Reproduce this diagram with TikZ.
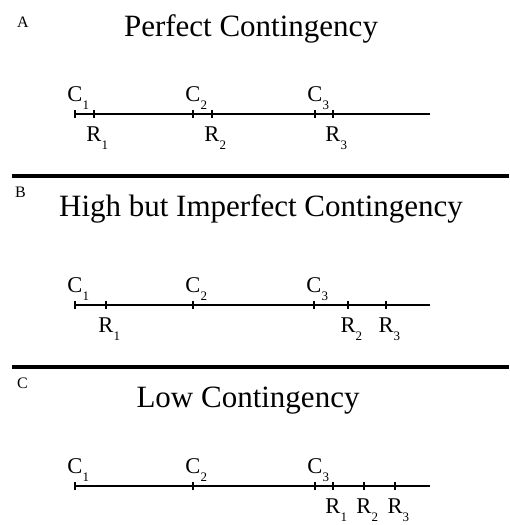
\documentclass[tikz,border=0pt]{standalone}
\usepackage{fontspec}
\setmainfont{Liberation Serif}
\tikzset{
  titletext/.style={font=\fontsize{31}{31}\selectfont, anchor=base, inner sep=0pt},
  panellabel/.style={font=\fontsize{16}{16}\selectfont, anchor=base west, inner sep=0pt},
  evlab/.style={font=\fontsize{22.5}{22.5}\selectfont, anchor=base, inner sep=0pt},
  axisline/.style={line width=2.6pt},
  tickmark/.style={line width=2.2pt},
  sepline/.style={line width=4pt},
}
\newcommand\evt[2]{#1\rlap{\raisebox{-8pt}{\fontsize{13}{13}\selectfont #2}}}
\begin{document}
\begin{tikzpicture}[x=1pt,y=-1pt]
\useasboundingbox (0,0) rectangle (509,525);
% separators
\coordinate (s1a) at (12,176); \coordinate (s1b) at (509,176);
\coordinate (s2a) at (12,367); \coordinate (s2b) at (509,367);
\draw[sepline] (s1a) -- (s1b);
\draw[sepline] (s2a) -- (s2b);
% panel labels and titles
\node[panellabel] (pA) at (17,27) {A};
\node[panellabel] (pB) at (15,197) {B};
\node[panellabel] (pC) at (17,388) {C};
\node[titletext] (tA) at (251,36) {Perfect Contingency};
\node[titletext] (tB) at (261,216) {High but Imperfect Contingency};
\node[titletext] (tC) at (248,407) {Low Contingency};
% panel lines
\foreach \p/\y in {A/114,B/305,C/486}{
  \coordinate (\p-start) at (75,\y);
  \coordinate (\p-end) at (430,\y);
  \draw[axisline] (\p-start) -- (\p-end);
}
% ticks: C events above, R events below
\foreach \p/\y/\cs/\rs in {A/114/{75,193,315}/{94,212,333},
                          B/305/{75,193,314}/{106,348,386},
                          C/486/{75,193,315}/{333,364,395}}{
  \foreach \x [count=\i] in \cs {
    \coordinate (\p-ct\i) at (\x,\y);
    \draw[tickmark] ([yshift=-4pt]\p-ct\i) -- ([yshift=4pt]\p-ct\i);
    \node[evlab] (\p-C\i) at (\x,\y-13) {\evt{C}{\i}};
  }
  \foreach \x [count=\i] in \rs {
    \coordinate (\p-rt\i) at (\x,\y);
    \draw[tickmark] ([yshift=-4pt]\p-rt\i) -- ([yshift=4pt]\p-rt\i);
    \node[evlab] (\p-R\i) at (\x,\y+27.5) {\evt{R}{\i}};
  }
}
\end{tikzpicture}
\end{document}
